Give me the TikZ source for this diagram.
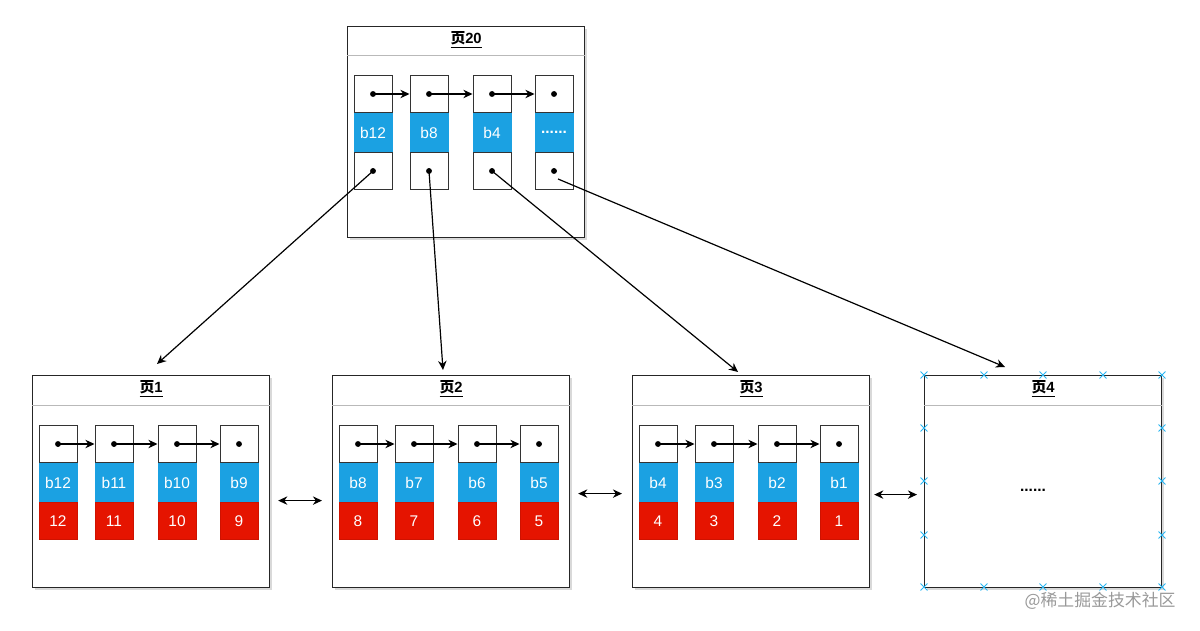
\documentclass[tikz,border=0pt]{standalone}
\usepackage{fontspec}
\setmainfont{Liberation Sans}
\newfontfamily\cjk{Noto Sans CJK SC}
\usetikzlibrary{positioning,arrows.meta,shadows,shapes.misc}
\definecolor{keyblue}{RGB}{27,161,226}
\definecolor{valred}{RGB}{229,20,0}
\definecolor{hdrgray}{RGB}{185,185,185}
\definecolor{handleblue}{RGB}{41,182,242}
\newcommand{\cw}{0.95cm}
\newcommand{\ch}{0.9375cm}

\begin{document}
\begin{tikzpicture}[x=0.025cm, y=-0.025cm,
    page/.style={draw=black!85, line width=0.8pt, fill=white, rectangle, anchor=north west, minimum width=5.925cm, minimum height=5.3cm, inner sep=0pt, drop shadow={shadow xshift=1.5pt, shadow yshift=-1.5pt, opacity=0.3}},
    hdr/.style={draw=hdrgray, line width=0.7pt},
    title/.style={font=\fontsize{10.5}{12}\selectfont\bfseries},
    cell/.style={draw=black!80, rectangle, fill=white, minimum width=\cw, minimum height=\ch, inner sep=0pt, line width=0.7pt, font=\fontsize{11}{13}\selectfont},
    key/.style={cell, fill=keyblue, draw=keyblue, text=white},
    val/.style={cell, fill=valred, draw=valred!90!black, text=white},
    ptr/.style={-{Stealth[length=6.5pt,width=6pt]}, line width=0.85pt},
    dbl/.style={{Stealth[length=6.5pt,width=6pt]}-{Stealth[length=6.5pt,width=6pt]}, line width=0.85pt},
    handle/.style={cross out, draw=handleblue, minimum size=4.2pt, inner sep=0pt, line width=0.7pt}]
    \useasboundingbox (0,0) rectangle (1200,630);

    % Pages
    \node[page, minimum height=5.275cm] (p20) at (347,26) {};
    \node[page] (p1) at (32,375) {};
    \node[page] (p2) at (332,375) {};
    \node[page] (p3) at (632,375) {};
    \node[page] (p4) at (924,375) {};

    \draw[hdr] ([yshift=-0.725cm]p20.north west) -- ([yshift=-0.725cm]p20.north east);
    \draw[hdr] ([yshift=-0.75cm]p1.north west) -- ([yshift=-0.75cm]p1.north east);
    \draw[hdr] ([yshift=-0.75cm]p2.north west) -- ([yshift=-0.75cm]p2.north east);
    \draw[hdr] ([yshift=-0.75cm]p3.north west) -- ([yshift=-0.75cm]p3.north east);
    \draw[hdr] ([yshift=-0.75cm]p4.north west) -- ([yshift=-0.75cm]p4.north east);

    \node[title] (p20-title) at ([yshift=-0.35cm]p20.north) {\underline{{\cjk 页}20}};
    \node[title] (p1-title) at ([yshift=-0.35cm]p1.north) {\underline{{\cjk 页}1}};
    \node[title] (p2-title) at ([yshift=-0.35cm]p2.north) {\underline{{\cjk 页}2}};
    \node[title] (p3-title) at ([yshift=-0.35cm]p3.north) {\underline{{\cjk 页}3}};
    \node[title] (p4-title) at ([yshift=-0.35cm]p4.north) {\underline{{\cjk 页}4}};

    % Root page
    \node[cell] (p20-1-top) at (373,94) {};
    \node[key, below=0pt of p20-1-top] (p20-1-key) {b12};
    \node[cell, below=0pt of p20-1-key] (p20-1-bot) {};
    \node[cell] (p20-2-top) at (429,94) {};
    \node[key, below=0pt of p20-2-top] (p20-2-key) {b8};
    \node[cell, below=0pt of p20-2-key] (p20-2-bot) {};
    \node[cell] (p20-3-top) at (492,94) {};
    \node[key, below=0pt of p20-3-top] (p20-3-key) {b4};
    \node[cell, below=0pt of p20-3-key] (p20-3-bot) {};
    \node[cell] (p20-4-top) at (554,94) {};
    \node[key, below=0pt of p20-4-top] (p20-4-key) {\textbf{......}};
    \node[cell, below=0pt of p20-4-key] (p20-4-bot) {};

    % Leaf page 1
    \node[cell] (p1-1-top) at (58,444) {};
    \node[key, below=0pt of p1-1-top] (p1-1-key) {b12};
    \node[val, below=0pt of p1-1-key] (p1-1-val) {12};
    \node[cell] (p1-2-top) at (114,444) {};
    \node[key, below=0pt of p1-2-top] (p1-2-key) {b11};
    \node[val, below=0pt of p1-2-key] (p1-2-val) {11};
    \node[cell] (p1-3-top) at (177,444) {};
    \node[key, below=0pt of p1-3-top] (p1-3-key) {b10};
    \node[val, below=0pt of p1-3-key] (p1-3-val) {10};
    \node[cell] (p1-4-top) at (239,444) {};
    \node[key, below=0pt of p1-4-top] (p1-4-key) {b9};
    \node[val, below=0pt of p1-4-key] (p1-4-val) {9};

    % Leaf page 2
    \node[cell] (p2-1-top) at (358,444) {};
    \node[key, below=0pt of p2-1-top] (p2-1-key) {b8};
    \node[val, below=0pt of p2-1-key] (p2-1-val) {8};
    \node[cell] (p2-2-top) at (414,444) {};
    \node[key, below=0pt of p2-2-top] (p2-2-key) {b7};
    \node[val, below=0pt of p2-2-key] (p2-2-val) {7};
    \node[cell] (p2-3-top) at (477,444) {};
    \node[key, below=0pt of p2-3-top] (p2-3-key) {b6};
    \node[val, below=0pt of p2-3-key] (p2-3-val) {6};
    \node[cell] (p2-4-top) at (539,444) {};
    \node[key, below=0pt of p2-4-top] (p2-4-key) {b5};
    \node[val, below=0pt of p2-4-key] (p2-4-val) {5};

    % Leaf page 3
    \node[cell] (p3-1-top) at (658,444) {};
    \node[key, below=0pt of p3-1-top] (p3-1-key) {b4};
    \node[val, below=0pt of p3-1-key] (p3-1-val) {4};
    \node[cell] (p3-2-top) at (714,444) {};
    \node[key, below=0pt of p3-2-top] (p3-2-key) {b3};
    \node[val, below=0pt of p3-2-key] (p3-2-val) {3};
    \node[cell] (p3-3-top) at (777,444) {};
    \node[key, below=0pt of p3-3-top] (p3-3-key) {b2};
    \node[val, below=0pt of p3-3-key] (p3-3-val) {2};
    \node[cell] (p3-4-top) at (839,444) {};
    \node[key, below=0pt of p3-4-top] (p3-4-key) {b1};
    \node[val, below=0pt of p3-4-key] (p3-4-val) {1};

    % Leaf page 4
    \node[font=\fontsize{11}{13}\selectfont\bfseries] (p4-more) at (1033,490) {......};
    \foreach \hx in {924,984,1043,1103,1162} {
        \node[handle] (h-\hx-n) at (\hx,375) {};
        \node[handle] (h-\hx-s) at (\hx,587) {};
    }
    \foreach \hy in {428,481,535} {
        \node[handle] (h-\hy-w) at (924,\hy) {};
        \node[handle] (h-\hy-e) at (1162,\hy) {};
    }

    % Dots
    \foreach \n in {p20-1-top,p20-2-top,p20-3-top,p20-4-top,p20-1-bot,p20-2-bot,p20-3-bot,p20-4-bot,
                    p1-1-top,p1-2-top,p1-3-top,p1-4-top,p2-1-top,p2-2-top,p2-3-top,p2-4-top,
                    p3-1-top,p3-2-top,p3-3-top,p3-4-top} {
        \fill (\n.center) circle (2.1pt);
    }

    % Links inside pages
    \draw[ptr] (p20-1-top.center) -- (p20-2-top.west);
    \draw[ptr] (p20-2-top.center) -- (p20-3-top.west);
    \draw[ptr] (p20-3-top.center) -- (p20-4-top.west);
    \draw[ptr] (p1-1-top.center) -- (p1-2-top.west);
    \draw[ptr] (p1-2-top.center) -- (p1-3-top.west);
    \draw[ptr] (p1-3-top.center) -- (p1-4-top.west);
    \draw[ptr] (p2-1-top.center) -- (p2-2-top.west);
    \draw[ptr] (p2-2-top.center) -- (p2-3-top.west);
    \draw[ptr] (p2-3-top.center) -- (p2-4-top.west);
    \draw[ptr] (p3-1-top.center) -- (p3-2-top.west);
    \draw[ptr] (p3-2-top.center) -- (p3-3-top.west);
    \draw[ptr] (p3-3-top.center) -- (p3-4-top.west);

    % Root to leaves
    \coordinate (in-1) at (157,364);
    \coordinate (in-2) at (443,370);
    \coordinate (in-3) at (738,372);
    \coordinate (in-4) at (1005,367);
    \draw[ptr] (p20-1-bot.center) -- (in-1);
    \draw[ptr] (p20-2-bot.center) -- (in-2);
    \draw[ptr] (p20-3-bot.center) -- (in-3);
    \draw[ptr] ([xshift=0.1cm,yshift=-0.2cm]p20-4-bot.center) -- (in-4);

    % Between leaves
    \draw[dbl] ([xshift=0.2cm,yshift=-0.475cm]p1.east) -- ([xshift=-0.25cm,yshift=-0.475cm]p2.west);
    \draw[dbl] ([xshift=0.2cm,yshift=-0.3cm]p2.east) -- ([xshift=-0.25cm,yshift=-0.3cm]p3.west);
    \draw[dbl] ([xshift=0.1cm,yshift=-0.325cm]p3.east) -- ([xshift=-0.175cm,yshift=-0.325cm]p4.west);

    \node[text=black!40, font=\cjk\fontsize{12}{14}\selectfont] (mark) at (1100,601) {@稀土掘金技术社区};
\end{tikzpicture}
\end{document}
